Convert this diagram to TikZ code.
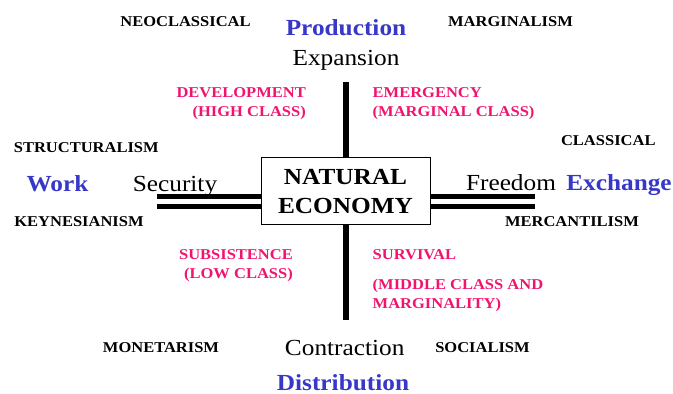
\documentclass[tikz,border=0pt]{standalone}
\usepackage{fontspec}
\setmainfont{Liberation Serif}[FakeStretch=1.1]
\usetikzlibrary{positioning}

\definecolor{factorblue}{RGB}{55,55,200}
\definecolor{classpink}{RGB}{240,20,110}

\tikzset{
  school/.style={font=\bfseries\fontsize{15}{18}\selectfont, inner sep=0pt, anchor=base},
  factor/.style={font=\bfseries\fontsize{23}{27}\selectfont, text=factorblue, inner sep=0pt, anchor=base},
  pole/.style={font=\fontsize{23}{27}\selectfont, inner sep=0pt, anchor=base},
  classlbl/.style={font=\bfseries\fontsize{15}{19}\selectfont, text=classpink, inner sep=0pt},
  axisline/.style={line width=6pt},
  twinline/.style={double, double distance=5pt, line width=5pt},
}

\begin{document}
\begin{tikzpicture}[x=1pt, y=-1pt]
            \useasboundingbox (0,0) rectangle (673,394);

            \coordinate (axis_top) at (345.5,82);
            \coordinate (axis_bottom) at (345.5,319.5);
            \coordinate (axis_left) at (157,201.2);
            \coordinate (axis_right) at (534.5,201.2);

            % Centre box
            \node[draw, line width=1pt, fill=white, minimum width=169pt, minimum height=67pt, inner sep=0pt,
                  align=center, font=\bfseries\fontsize{23}{29}\selectfont] (eco) at (345.5,191.2) {NATURAL\\ECONOMY};

            % Axes
            \draw[axisline] (axis_top) -- (axis_top |- eco.north);
            \draw[axisline] (axis_bottom |- eco.south) -- (axis_bottom);
            \draw[twinline] (axis_left) -- (axis_left -| eco.west);
            \draw[twinline] (eco.east |- axis_right) -- (axis_right);

            % Factors and poles
            \node[factor] (production) at (346,35) {Production};
            \node[factor] (work) at (57.5,191.7) {Work};
            \node[factor] (exchange) at (619,190.7) {Exchange};
            \node[factor] (distribution) at (343,390.5) {Distribution};

            \node[pole] (expansion) at (346,65) {Expansion};
            \node[pole] (security) at (175,191.7) {Security};
            \node[pole] (freedom) at (511,190.7) {Freedom};
            \node[pole] (contraction) at (344.7,355) {Contraction};

            % Schools
            \foreach \name/\x/\y/\txt in {neo/185.5/26.7/NEOCLASSICAL, marg/510.5/26.7/MARGINALISM,
                    struct/86.3/152.7/STRUCTURALISM, class/608.3/145.7/CLASSICAL,
                    keynes/79/226.5/KEYNESIANISM, merc/572/226.7/MERCANTILISM,
                    monet/161/352.7/MONETARISM, social/482.5/352.7/SOCIALISM} {
                \node[school] (\name) at (\x,\y) {\txt};
            }

            % Classes
            \node[classlbl, anchor=north east, align=right] (development) at (306,87.5) {DEVELOPMENT\\(HIGH CLASS)};
            \node[classlbl, anchor=north west, align=left] (emergency) at (372.5,87) {EMERGENCY\\(MARGINAL CLASS)};
            \node[classlbl, anchor=north east, align=right] (subsistence) at (293,249.5) {SUBSISTENCE\\(LOW CLASS)};
            \node[classlbl, anchor=base west] (survival) at (372.5,259.3) {SURVIVAL};
            \node[classlbl, anchor=north west, align=left] (middle) at (372.5,278.5) {(MIDDLE CLASS AND\\MARGINALITY)};
        \end{tikzpicture}
\end{document}
